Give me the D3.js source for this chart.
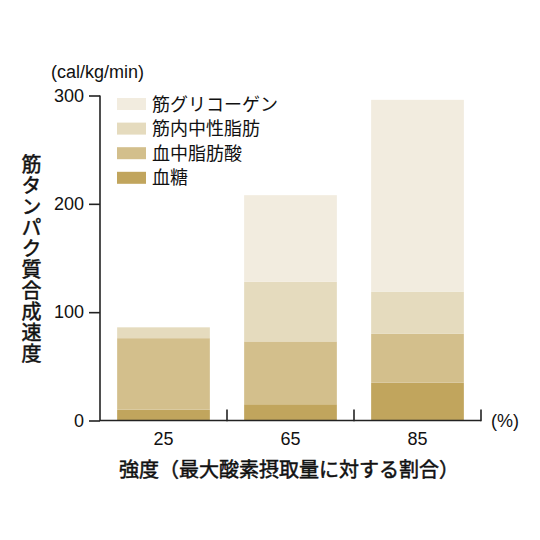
<!DOCTYPE html>
<html><head><meta charset="utf-8">
<script src="https://cdn.jsdelivr.net/npm/d3@7"></script>
<style>body{margin:0;background:#fff}</style>
</head><body>
<svg id="c" width="540" height="540"></svg>
<script>
const categories = ["25", "65", "85"];
const seriesNames = ["血糖", "血中脂肪酸", "筋内中性脂肪", "筋グリコーゲン"];
const bloodSugar = [10, 15, 35];
const bloodFattyAcid = [66, 58, 45];
const muscleTG = [10, 55, 39];
const muscleGlycogen = [0, 80, 177];
const yTicks = [0, 100, 200, 300];
const colors = ["#c1a55d", "#d3bf8c", "#e5dbbe", "#f2ecdf"];

const JP = "'Liberation Sans','Noto Sans CJK JP',sans-serif";
const svg = d3.select("#c");
const x = d3.scaleBand().domain(categories).range([100, 481]).paddingInner(0.27).paddingOuter(0.135);
const y = d3.scaleLinear().domain([0, 300]).range([420.5, 95.5]);

const rows = categories.map((c, i) => ({cat: c, s0: bloodSugar[i], s1: bloodFattyAcid[i], s2: muscleTG[i], s3: muscleGlycogen[i]}));
const stack = d3.stack().keys(["s0", "s1", "s2", "s3"])(rows);

svg.append("g").selectAll("g").data(stack).join("g")
  .attr("fill", (d, i) => colors[i])
  .selectAll("rect").data(d => d).join("rect")
  .attr("x", d => x(d.data.cat))
  .attr("width", x.bandwidth())
  .attr("y", d => y(d[1]))
  .attr("height", d => y(d[0]) - y(d[1]));

// Y axis
const yAxis = svg.append("g").attr("transform", "translate(100,0)")
  .call(d3.axisLeft(y).tickValues(yTicks).tickSize(11).tickPadding(5));
yAxis.select(".domain").attr("d", "M0," + y(300) + "V" + (y(0) + 0.5)).attr("stroke", "#222").attr("stroke-width", 1.6);
yAxis.selectAll(".tick line").attr("stroke", "#222").attr("stroke-width", 1.6);
yAxis.selectAll(".tick text").attr("font-family", JP).attr("font-size", 18).attr("fill", "#111");

// X axis
const xg = svg.append("g").attr("transform", "translate(0," + y(0) + ")");
xg.append("line").attr("x1", 100).attr("x2", 481).attr("stroke", "#222").attr("stroke-width", 1.6);
const step = x.step();
xg.selectAll("line.b").data(categories).join("line").attr("class", "b")
  .attr("x1", d => x(d) + x.bandwidth() / 2 + step / 2)
  .attr("x2", d => x(d) + x.bandwidth() / 2 + step / 2)
  .attr("y1", 0.8).attr("y2", -11).attr("stroke", "#222").attr("stroke-width", 1.6);
xg.selectAll("text").data(categories).join("text")
  .attr("x", d => x(d) + x.bandwidth() / 2).attr("y", 24)
  .attr("text-anchor", "middle").attr("font-family", JP).attr("font-size", 18).attr("fill", "#111")
  .text(d => d);

svg.append("text").attr("x", 491).attr("y", 427).attr("font-family", JP).attr("font-size", 18).attr("fill", "#111").text("(%)");
svg.append("text").attr("x", 51).attr("y", 78).attr("font-family", JP).attr("font-size", 18).attr("fill", "#111").text("(cal/kg/min)");

// X title
svg.append("text").attr("x", 289).attr("y", 477).attr("text-anchor", "middle")
  .attr("font-family", JP).attr("font-size", 20).attr("fill", "#111")
  .attr("stroke", "#111").attr("stroke-width", 0.5)
  .text("強度（最大酸素摂取量に対する割合）");

// Y title (vertical)
svg.append("text").attr("x", 30).attr("y", 154)
  .attr("font-family", JP).attr("font-size", 20).attr("fill", "#111")
  .attr("stroke", "#111").attr("stroke-width", 0.5)
  .style("writing-mode", "vertical-rl").style("letter-spacing", "1px")
  .text("筋タンパク質合成速度");

// Legend
const legendOrder = [3, 2, 1, 0];
const lg = svg.append("g").selectAll("g").data(legendOrder).join("g")
  .attr("transform", (d, i) => "translate(117," + (98 + i * 24.6) + ")");
lg.append("rect").attr("width", 29).attr("height", 12).attr("fill", d => colors[d]);
lg.append("text").attr("x", 35).attr("y", 12.5).attr("font-family", JP).attr("font-size", 18).attr("fill", "#111")
  .text(d => seriesNames[d]);
</script>
</body></html>
